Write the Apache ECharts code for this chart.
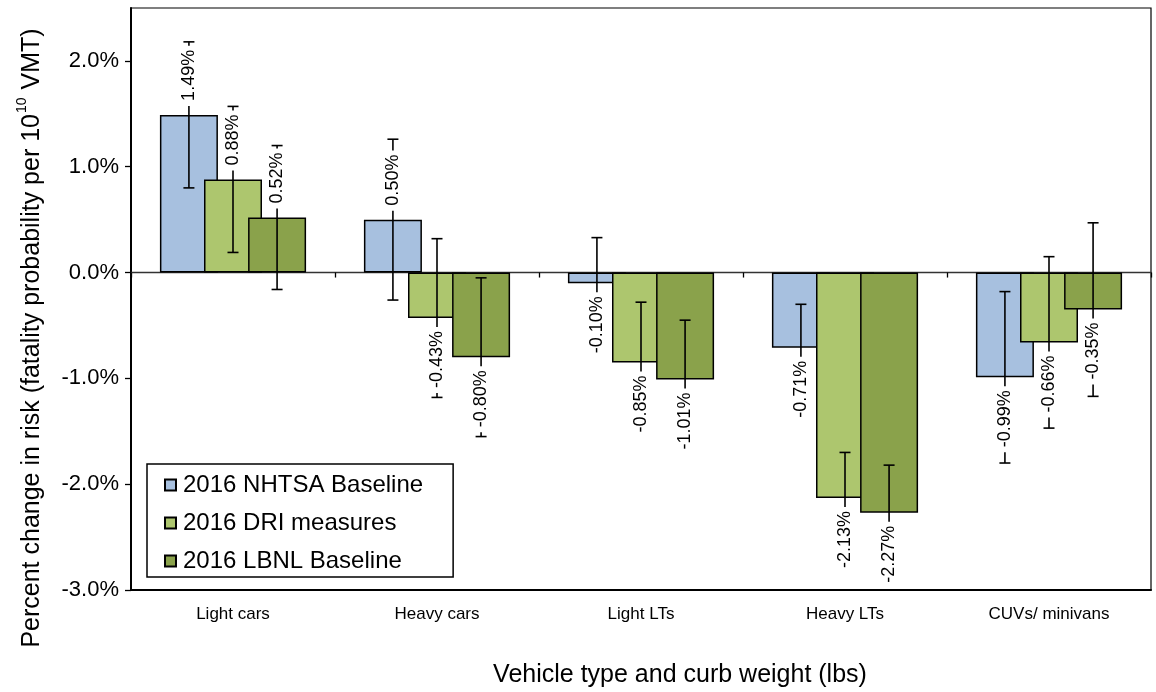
<!DOCTYPE html>
<html>
<head>
<meta charset="utf-8">
<script src="https://cdn.jsdelivr.net/npm/echarts@6/dist/echarts.min.js"></script>
<style>
html,body{margin:0;padding:0;background:#fff;}
#chart{width:1156px;height:692px;}
</style>
</head>
<body>
<div id="chart"></div>
<script>
const categories = ['Light cars', 'Heavy cars', 'Light LTs', 'Heavy LTs', 'CUVs/ minivans'];
const seriesNames = ['2016 NHTSA Baseline', '2016 DRI measures', '2016 LBNL Baseline'];
const nhtsa = [1.49, 0.50, -0.10, -0.71, -0.99];
const dri = [0.88, -0.43, -0.85, -2.13, -0.66];
const lbnl = [0.52, -0.80, -1.01, -2.27, -0.35];
const nhtsaErr = [0.69, 0.76, 0.43, 0.41, 0.81];
const driErr = [0.69, 0.75, 0.57, 0.43, 0.81];
const lbnlErr = [0.68, 0.75, 0.56, 0.45, 0.82];
const yTicks = [-3, -2, -1, 0, 1, 2];

const FONT = 'Arial, "Liberation Sans", sans-serif';
const colors = ['#a7c0df', '#adc66e', '#8aa24b'];
const values = [nhtsa, dri, lbnl];
const errs = [nhtsaErr, driErr, lbnlErr];
const BAR_W = 58;
const GAP = -0.24;

const chart = echarts.init(document.getElementById('chart'), null, {renderer: 'canvas'});

const barSeries = seriesNames.map((name, i) => ({
  name: name,
  type: 'bar',
  xAxisIndex: 0,
  data: values[i],
  barWidth: BAR_W,
  barGap: (GAP * 100) + '%',
  itemStyle: {color: colors[i], borderColor: '#000', borderWidth: 1.5},
  emphasis: {disabled: true},
  z: 2
}));

const errSeries = seriesNames.map((name, i) => ({
  type: 'custom',
  xAxisIndex: 0,
  z: 5,
  silent: true,
  data: values[i].map((v, k) => [k, v, errs[i][k]]),
  renderItem: function (params, api) {
    const cat = api.value(0), v = api.value(1), e = api.value(2);
    const base = api.coord([cat, v]);
    const off = (i - 1) * BAR_W * (1 + GAP);
    const x = base[0] + off;
    const yEnd = base[1];
    const yTop = api.coord([cat, v + e])[1];
    const yBot = api.coord([cat, v - e])[1];
    const ls = {stroke: '#000', lineWidth: 1.6};
    const cw = 5.5;
    const txt = (v < 0 ? '-' : '') + Math.abs(v).toFixed(2) + '%';
    const labelEl = {
      type: 'text',
      x: x,
      y: v >= 0 ? yEnd - 9 : yEnd + 9,
      rotation: Math.PI / 2,
      style: {
        text: txt,
        font: '18px ' + FONT,
        fill: '#000',
        align: v >= 0 ? 'left' : 'right',
        verticalAlign: 'middle',
        backgroundColor: '#fff',
        padding: [1, 4, 1, 5]
      }
    };
    return {
      type: 'group',
      children: [
        {type: 'line', shape: {x1: x, y1: yTop, x2: x, y2: yBot}, style: ls},
        {type: 'line', shape: {x1: x - cw, y1: yTop, x2: x + cw, y2: yTop}, style: ls},
        {type: 'line', shape: {x1: x - cw, y1: yBot, x2: x + cw, y2: yBot}, style: ls},
        labelEl
      ]
    };
  }
}));

const option = {
  animation: false,
  backgroundColor: '#fff',
  grid: {left: 131, right: 5, top: 8, bottom: 102, show: true, borderColor: '#000', borderWidth: 1.2, backgroundColor: 'transparent'},
  legend: {
    data: seriesNames,
    orient: 'vertical',
    left: 147,
    top: 464,
    borderColor: '#000',
    borderWidth: 1.5,
    backgroundColor: '#fff',
    padding: [9, 30, 4, 17],
    itemGap: 14,
    itemWidth: 11,
    itemHeight: 11,
    icon: 'rect',
    textStyle: {fontSize: 24, color: '#000', fontFamily: FONT, lineHeight: 24, padding: [0, 0, 0, 2]}
  },
  xAxis: [
    {
      type: 'category',
      data: categories,
      position: 'bottom',
      axisLine: {onZero: false, lineStyle: {color: '#000', width: 2}},
      axisTick: {show: false},
      axisLabel: {fontSize: 17, color: '#000', fontFamily: FONT, margin: 16}
    },
    {
      type: 'category',
      data: categories,
      position: 'top',
      axisLine: {onZero: true, lineStyle: {color: '#333', width: 1.3}},
      axisTick: {show: true, inside: true, length: 5, lineStyle: {color: '#000', width: 1.3}},
      axisLabel: {show: false}
    }
  ],
  yAxis: {
    type: 'value',
    min: -3,
    max: 2.5,
    interval: 1,
    splitLine: {show: false},
    axisLine: {show: true, lineStyle: {color: '#000', width: 2}},
    axisTick: {show: true, length: 6, lineStyle: {color: '#000', width: 1.3}},
    axisLabel: {
      showMaxLabel: false,
      fontSize: 22, color: '#000', fontFamily: FONT, margin: 12,
      formatter: function (v) { return yTicks.indexOf(v) >= 0 ? v.toFixed(1) + '%' : ''; }
    }
  },
  graphic: [
    {
      type: 'text',
      x: 30, y: 338,
      rotation: Math.PI / 2,
      style: {
        text: '{a|Percent change in risk (fatality probability per 10}{s|10}{a| VMT)}',
        fill: '#000',
        align: 'center',
        verticalAlign: 'middle',
        rich: {
          a: {fontSize: 25, fontFamily: FONT, fill: '#000', lineHeight: 30, verticalAlign: 'bottom'},
          s: {fontSize: 14, fontFamily: FONT, fill: '#000', lineHeight: 30, verticalAlign: 'top', padding: [0, 1, 0, 1]}
        }
      }
    },
    {
      type: 'text',
      x: 680, y: 675,
      style: {
        text: 'Vehicle type and curb weight (lbs)',
        font: '25px ' + FONT,
        fill: '#000',
        align: 'center',
        verticalAlign: 'middle'
      }
    }
  ],
  series: barSeries.concat(errSeries)
};
chart.setOption(option);
</script>
</body>
</html>
